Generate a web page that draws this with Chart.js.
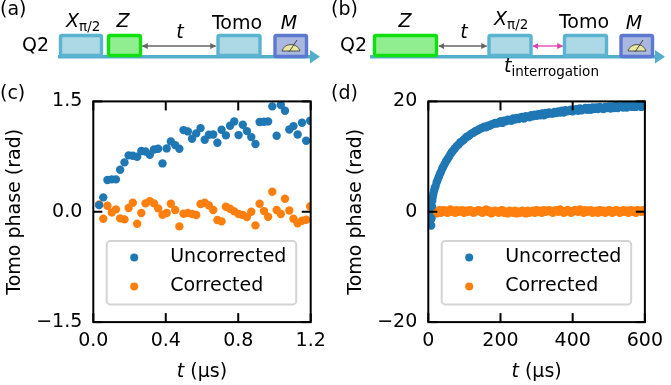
<!DOCTYPE html>
<html>
<head>
<meta charset="utf-8">
<title>Tomo phase</title>
<script src="https://cdn.jsdelivr.net/npm/chart.js@4"></script>
<style>
  html, body { margin: 0; padding: 0; background: #fff; }
  #page { position: relative; width: 671px; height: 385px; overflow: hidden; font-family: 'DejaVu Sans', sans-serif; }
  .box { position: absolute; top: 78.6px; height: 306.4px; }
  svg { position: absolute; left: 0; top: 0; }
  svg text { font-family: 'DejaVu Sans', sans-serif; font-size: 19px; fill: #000; }
  svg .it { font-style: italic; }
  svg .sub { font-size: 13.5px; }
  .pulse { fill: #add8e6; stroke: #5ab4d0; stroke-width: 3.4; }
  .zed { fill: #90ee90; stroke: #10e010; stroke-width: 3.4; }
  .meas { fill: #aab8e0; stroke: #5c78d0; stroke-width: 3.4; }
</style>
</head>
<body>
<div id="page">
  <div class="box" style="left:0;width:335px"><canvas id="chartC"></canvas></div>
  <div class="box" style="left:335px;width:336px"><canvas id="chartD"></canvas></div>
  <svg width="671" height="110" viewBox="0 0 671 110">
    <defs>
      <g id="meter">
        <path d="M-9 0 A9.5 9.5 0 0 1 9 0 Z" fill="#e8e8a0" stroke="#333" stroke-width="0.8"/>
        <line x1="-2" y1="1" x2="6" y2="-11" stroke="#444" stroke-width="1"/>
      </g>
      <marker id="grey" viewBox="0 0 8 8" refX="7" refY="4" markerWidth="6" markerHeight="6" orient="auto-start-reverse" markerUnits="userSpaceOnUse"><path d="M0 0 L8 4 L0 8 Z" fill="#666"/></marker>
      <marker id="pink" viewBox="0 0 8 8" refX="7" refY="4" markerWidth="6" markerHeight="6" orient="auto-start-reverse" markerUnits="userSpaceOnUse"><path d="M0 0 L8 4 L0 8 Z" fill="#e040b0"/></marker>
    </defs>

    <text x="0" y="15">(a)</text>
    <text x="331" y="15">(b)</text>
    <text x="0" y="99">(c)</text>
    <text x="331" y="99">(d)</text>

    <!-- panel a -->
    <line x1="58" y1="56.7" x2="311" y2="56.7" stroke="#53aecb" stroke-width="3.5"/>
    <path d="M310 50 L320 56.7 L310 63.5 Z" fill="#53aecb"/>
    <rect class="pulse" x="60.5" y="35.5" width="41" height="20" rx="1.5"/>
    <rect class="zed" x="108.5" y="35.5" width="32" height="20" rx="1.5"/>
    <rect class="pulse" x="218" y="35.5" width="42" height="20" rx="1.5"/>
    <rect class="meas" x="275" y="35.5" width="31.5" height="21" rx="1.5"/>
    <use href="#meter" x="291" y="51"/>
    <line x1="142.5" y1="46" x2="215.5" y2="46" stroke="#666" stroke-width="1.3" marker-start="url(#grey)" marker-end="url(#grey)"/>
    <text x="22" y="51">Q2</text>
    <text x="66" y="27" class="it">X</text><text x="79" y="31" class="sub">π/2</text>
    <text x="123" y="27" class="it" text-anchor="middle">Z</text>
    <text x="180" y="38" class="it" text-anchor="middle">t</text>
    <text x="237" y="29" text-anchor="middle">Tomo</text>
    <text x="289" y="29" class="it" text-anchor="middle">M</text>

    <!-- panel b -->
    <line x1="370" y1="56.7" x2="656" y2="56.7" stroke="#53aecb" stroke-width="3.5"/>
    <path d="M655 50 L665 56.7 L655 63.5 Z" fill="#53aecb"/>
    <rect class="zed" x="374.5" y="35.5" width="62" height="20" rx="1.5"/>
    <rect class="pulse" x="489" y="35.5" width="42" height="20" rx="1.5"/>
    <rect class="pulse" x="564.5" y="35.5" width="42" height="20" rx="1.5"/>
    <rect class="meas" x="621" y="35.5" width="31.5" height="21" rx="1.5"/>
    <use href="#meter" x="637" y="51"/>
    <line x1="439" y1="46" x2="486.5" y2="46" stroke="#666" stroke-width="1.3" marker-start="url(#grey)" marker-end="url(#grey)"/>
    <line x1="533" y1="46" x2="562.5" y2="46" stroke="#e040b0" stroke-width="1.3" marker-start="url(#pink)" marker-end="url(#pink)"/>
    <text x="340" y="51">Q2</text>
    <text x="405" y="27" class="it" text-anchor="middle">Z</text>
    <text x="464" y="38" class="it" text-anchor="middle">t</text>
    <text x="494" y="25" class="it">X</text><text x="507" y="29" class="sub">π/2</text>
    <text x="584" y="28" text-anchor="middle">Tomo</text>
    <text x="634" y="29" class="it" text-anchor="middle">M</text>
    <text x="504" y="72" class="it">t</text><text x="511.5" y="76" class="sub">interrogation</text>
  </svg>
</div>
<script>
const seriesNames = ['Uncorrected', 'Corrected'];
const seriesColors = ['#1f77b4', '#ff7f0e'];

// panel (c), short times
const shortTimes = [
  0.032, 0.055, 0.078, 0.102, 0.125, 0.148, 0.172, 0.195, 0.218, 0.242,
  0.265, 0.288, 0.312, 0.335, 0.358, 0.382, 0.405, 0.428, 0.452, 0.475,
  0.498, 0.522, 0.545, 0.568, 0.592, 0.615, 0.638, 0.662, 0.685, 0.708,
  0.732, 0.755, 0.778, 0.802, 0.825, 0.848, 0.872, 0.895, 0.918, 0.942,
  0.965, 0.988, 1.012, 1.035, 1.058, 1.082, 1.105, 1.128, 1.152, 1.175, 1.197
];
const shortUncorrected = [
  0.09, 0.195, 0.431, 0.44, 0.44, 0.571, 0.671, 0.766, 0.761, 0.748,
  0.825, 0.82, 0.775, 0.847, 0.856, 0.657, 0.861, 0.956, 0.906, 0.856,
  1.11, 1.092, 0.992, 1.065, 1.137, 0.979, 1.047, 1.051, 0.938, 1.115,
  1.038, 1.169, 1.228, 1.042, 1.182, 1.096, 1.015, 0.92, 1.219, 1.223,
  1.228, 1.432, 1.033, 1.45, 1.373, 1.119, 1.164, 1.051, 1.21, 0.965, 1.237
];
const shortCorrected = [
  0.1, -0.095, 0.082, -0.009, 0.032, -0.09, -0.104, 0.05, 0.123, -0.163,
  -0.018, 0.114, 0.145, 0.114, 0.046, -0.04, -0.018, 0.109, 0.023, -0.199,
  -0.027, -0.018, -0.031, -0.045, 0.105, 0.123, 0.087, 0.023, -0.113, -0.131,
  0.068, 0.041, 0.005, -0.031, -0.045, -0.072, 0, -0.185, 0.109, 0.009,
  -0.068, 0.272, 0.023, -0.031, 0.177, 0.018, -0.095, -0.158, -0.122, -0.108, 0.073
];

// panel (d), long times
const longTimes = [
  1, 2, 4, 6, 8, 9, 10, 11, 12, 14,
  16, 18, 20, 23, 26, 29, 32, 35, 38, 41,
  45, 49, 53, 57, 61, 65, 69, 74, 79, 84,
  89, 94, 99, 105, 110, 115, 120, 125, 130, 135,
  140, 145, 150, 155, 160, 165, 170, 175, 180, 185,
  190, 195, 200, 205, 210, 215, 220, 225, 230, 235,
  240, 245, 250, 255, 260, 265, 270, 275, 280, 285,
  290, 295, 300, 305, 310, 315, 320, 325, 330, 335,
  340, 345, 350, 355, 360, 365, 370, 375, 380, 385,
  390, 395, 400, 405, 410, 415, 420, 425, 430, 435,
  440, 445, 450, 455, 460, 465, 470, 475, 480, 485,
  490, 495, 500, 505, 510, 515, 520, 525, 530, 535,
  540, 545, 550, 555, 560, 565, 570, 575, 580, 585,
  590, 595, 600
];
const longUncorrected = [
  0.1, -0.2, -0.9, -1.6, -2.5, -1.2, 1.0, 2.0, 2.6, 3.2,
  3.8, 4.3, 4.6, 5.3, 5.8, 6.3, 6.8, 7.2, 7.7, 8.1,
  8.6, 9.1, 9.5, 9.9, 10.4, 10.8, 11.1, 11.5, 11.9, 12.2,
  12.6, 12.8, 13.1, 13.5, 13.7, 13.9, 14.2, 14.3, 14.6, 14.7,
  14.9, 15.1, 15.2, 15.4, 15.3, 15.6, 15.6, 15.8, 15.9, 16.1,
  16.0, 16.2, 16.4, 16.1, 16.5, 16.4, 16.7, 16.6, 16.5, 16.9,
  16.7, 17.0, 16.8, 17.1, 17.2, 16.9, 17.3, 17.2, 17.1, 17.5,
  17.3, 17.6, 17.4, 17.7, 17.5, 17.8, 17.5, 17.9, 17.7, 18.0,
  17.8, 17.8, 18.1, 17.9, 18.2, 18.0, 18.3, 18.0, 18.4, 18.2,
  18.3, 18.5, 18.2, 18.5, 18.6, 18.3, 18.7, 18.4, 18.6, 18.8,
  18.5, 18.8, 18.5, 18.9, 18.6, 18.9, 18.6, 19.0, 18.8, 18.6,
  19.0, 18.8, 19.1, 18.7, 19.1, 18.8, 19.2, 18.8, 19.1, 19.1,
  18.9, 19.3, 18.9, 19.2, 19.3, 19.0, 19.4, 19.0, 19.3, 19.4,
  19.0, 19.4, 19.2
];
const longCorrected = [
  -0.1, 0.2, -0.3, 0.0, 0.2, -0.3, 0.0, 0.3, -0.2, 0.0,
  0.2, -0.2, 0.0, -0.3, 0.2, 0.0, 0.3, -0.2, 0.0, 0.2,
  0.3, 0.0, -0.2, 0.2, 0.4, 0.0, 0.2, -0.2, 0.3, 0.0,
  0.2, 0.3, -0.2, 0.2, 0.0, 0.3, 0.2, -0.2, 0.0, 0.2,
  0.3, 0.0, -0.2, 0.2, 0.4, 0.0, 0.2, -0.3, 0.0, 0.2,
  0.0, -0.2, 0.2, 0.3, -0.2, 0.0, -0.3, 0.2, 0.0, -0.2,
  0.2, -0.3, 0.0, -0.2, 0.2, 0.0, -0.3, 0.2, -0.2, 0.0,
  0.2, -0.2, 0.3, 0.0, 0.2, -0.2, 0.3, 0.0, 0.2, 0.3,
  0.0, -0.2, 0.2, 0.3, 0.0, 0.4, 0.2, -0.2, 0.0, 0.3,
  0.2, -0.2, 0.0, 0.3, 0.2, 0.0, 0.4, 0.2, -0.2, 0.3,
  0.0, 0.2, 0.3, -0.2, 0.0, 0.2, -0.2, 0.3, 0.0, 0.2,
  -0.2, 0.0, 0.3, 0.2, -0.2, 0.0, 0.3, 0.2, -0.2, 0.0,
  0.3, 0.0, 0.2, -0.2, 0.3, 0.0, 0.2, -0.2, 0.3, 0.2,
  0.0, 0.3, 0.0
];

const shortXTicks = [0, 0.4, 0.8, 1.2];
const shortXLabels = ['0.0', '0.4', '0.8', '1.2'];
const shortYTicks = [-1.5, 0, 1.5];
const shortYLabels = ['\u22121.5', '0.0', '1.5'];
const longXTicks = [0, 200, 400, 600];
const longXLabels = ['0', '200', '400', '600'];
const longYTicks = [-20, 0, 20];
const longYLabels = ['\u221220', '0', '20'];

const fontFamily = "'DejaVu Sans', sans-serif";
const fontSize = 19;

// frame, inward ticks, legend box and the half italic x title are not in chart.js
const panelDecor = {
  id: 'panelDecor',
  afterDatasetsDraw(chart, args, opts) {
    const c = chart.ctx;
    const a = chart.chartArea;
    const sx = chart.scales.x;
    const sy = chart.scales.y;
    c.save();
    c.strokeStyle = '#000';
    c.lineWidth = 2;
    sx.ticks.forEach(t => {
      const p = sx.getPixelForValue(t.value);
      c.beginPath(); c.moveTo(p, a.top); c.lineTo(p, a.top + 9); c.stroke();
      c.beginPath(); c.moveTo(p, a.bottom); c.lineTo(p, a.bottom - 9); c.stroke();
    });
    sy.ticks.forEach(t => {
      const p = sy.getPixelForValue(t.value);
      c.beginPath(); c.moveTo(a.left, p); c.lineTo(a.left + 9, p); c.stroke();
      c.beginPath(); c.moveTo(a.right, p); c.lineTo(a.right - 9, p); c.stroke();
    });
    c.strokeRect(a.left, a.top, a.right - a.left, a.bottom - a.top);

    // legend
    c.beginPath();
    c.roundRect(a.left + opts.legendLeft, a.bottom - 81, 189.5, 63.3, 3.5);
    c.fillStyle = 'rgba(255,255,255,0.8)';
    c.fill();
    c.strokeStyle = '#d4d4d4';
    c.lineWidth = 2;
    c.stroke();
    c.font = '19px ' + fontFamily;
    c.textBaseline = 'middle';
    seriesNames.forEach((name, i) => {
      const y = a.bottom - 64.7 + i * 29;
      c.fillStyle = seriesColors[i];
      c.beginPath();
      c.arc(a.left + opts.legendLeft + 27.5, y, 4, 0, Math.PI * 2);
      c.fill();
      c.fillStyle = '#000';
      c.fillText(name, a.left + opts.legendLeft + 63.5, y);
    });

    // x title
    const mid = (a.left + a.right) / 2;
    const rest = ' (\u00b5s)';
    c.textBaseline = 'alphabetic';
    c.font = 'italic ' + fontSize + 'px ' + fontFamily;
    const w1 = c.measureText('t').width;
    c.font = fontSize + 'px ' + fontFamily;
    const w2 = c.measureText(rest).width;
    const x0 = mid - (w1 + w2) / 2;
    c.fillText(rest, x0 + w1, a.bottom + 55);
    c.font = 'italic ' + fontSize + 'px ' + fontFamily;
    c.fillText('t', x0, a.bottom + 55);
    c.restore();
  }
};

function dotSet(i, xs, ys) {
  return {
    label: seriesNames[i],
    data: xs.map((x, k) => ({ x: x, y: ys[k] })),
    backgroundColor: seriesColors[i],
    borderWidth: 0,
    pointRadius: 4.2,
    clip: 0
  };
}

function drawPanel(id, xs, ys1, ys2, xTicks, xLabels, yTicks, yLabels, geo) {
  return new Chart(document.getElementById(id), {
    type: 'scatter',
    data: { datasets: [dotSet(0, xs, ys1), dotSet(1, xs, ys2)] },
    plugins: [panelDecor],
    options: {
      responsive: true,
      maintainAspectRatio: false,
      animation: false,
      layout: { autoPadding: false, padding: { top: 16, right: geo.right, left: 0, bottom: 0 } },
      plugins: {
        legend: { display: false },
        tooltip: { enabled: false },
        panelDecor: { legendLeft: geo.legendLeft }
      },
      scales: {
        x: {
          type: 'linear',
          min: xTicks[0],
          max: xTicks[xTicks.length - 1],
          afterBuildTicks: s => { s.ticks = xTicks.map(v => ({ value: v })); },
          afterFit: s => { s.height = 63.3; },
          grid: { display: false, drawTicks: false },
          border: { display: false },
          ticks: {
            autoSkip: false, maxRotation: 0, padding: 8, color: '#000',
            font: { family: fontFamily, size: fontSize },
            callback: (v, i) => xLabels[i]
          }
        },
        y: {
          type: 'linear',
          min: yTicks[0],
          max: yTicks[yTicks.length - 1],
          afterBuildTicks: s => { s.ticks = yTicks.map(v => ({ value: v })); },
          afterFit: s => { s.width = geo.yWidth; },
          grid: { display: false, drawTicks: false },
          border: { display: false },
          title: {
            display: true, text: 'Tomo phase (rad)', color: '#000', padding: geo.titlePad,
            font: { family: fontFamily, size: fontSize }
          },
          ticks: {
            autoSkip: false, padding: 11, color: '#000',
            font: { family: fontFamily, size: fontSize },
            callback: (v, i) => yLabels[i]
          }
        }
      }
    }
  });
}

drawPanel('chartC', shortTimes, shortUncorrected, shortCorrected, shortXTicks, shortXLabels, shortYTicks, shortYLabels,
  { yWidth: 93.3, right: 24.3, titlePad: 4, legendLeft: 13.4 });
drawPanel('chartD', longTimes, longUncorrected, longCorrected, longXTicks, longXLabels, longYTicks, longYLabels,
  { yWidth: 93.3, right: 25.3, titlePad: 10, legendLeft: 13.4 });
</script>
</body>
</html>
